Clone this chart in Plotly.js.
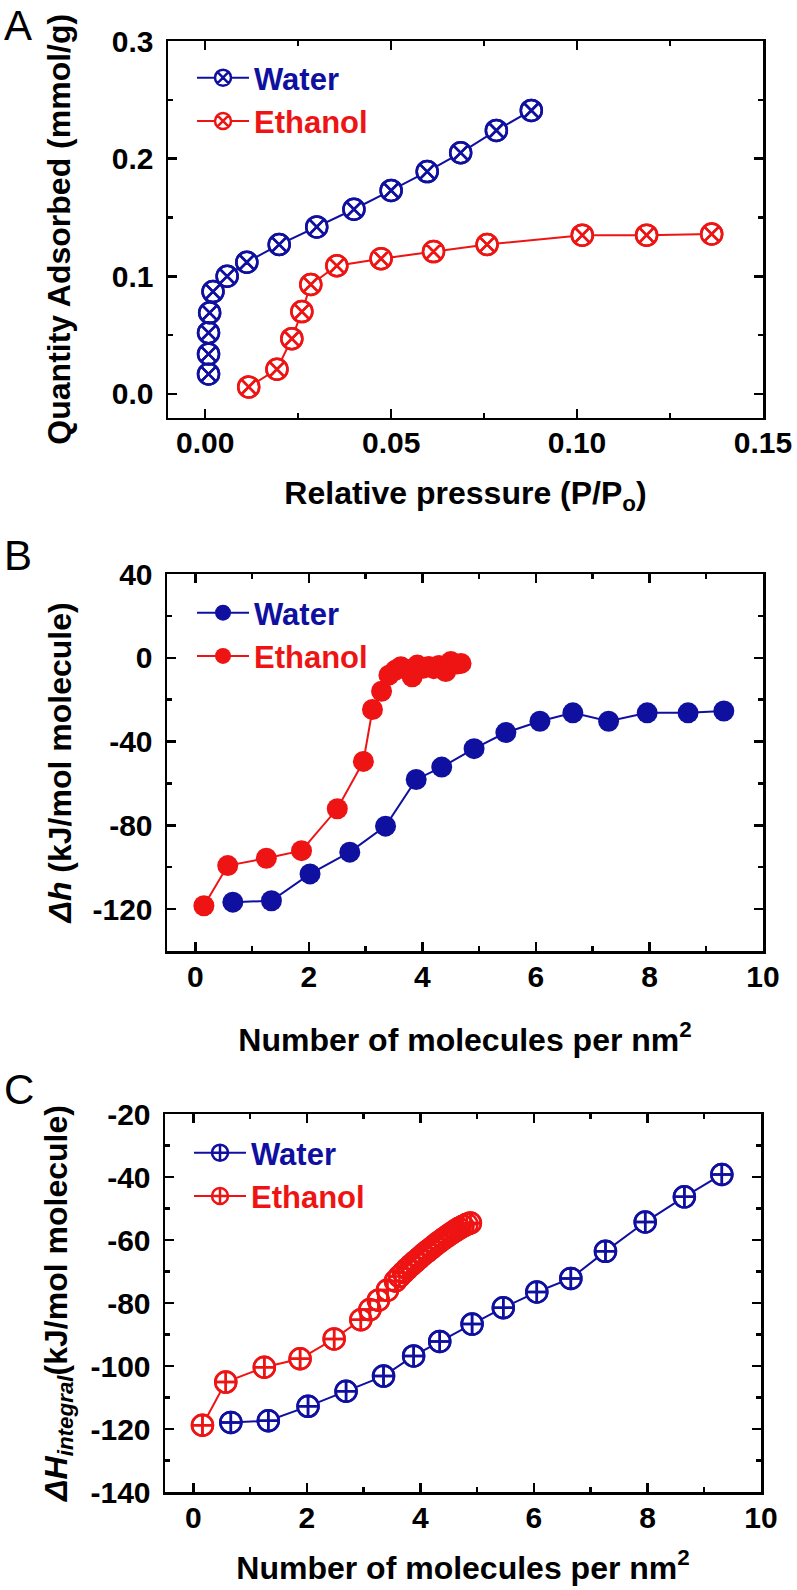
<!DOCTYPE html>
<html><head><meta charset="utf-8">
<script src="https://cdn.plot.ly/plotly-3.0.1.min.js"></script>
<style>body{margin:0;background:#fff}#chart{width:797px;height:1590px}</style>
</head><body><div id="chart"></div>
<script>
// ---------- data ----------
const seriesNames = ['Water', 'Ethanol'];

// Panel A: adsorption isotherms
const pressureWater = [0.0009, 0.0009, 0.0009, 0.0012, 0.0021, 0.0059, 0.0112, 0.0199, 0.0300, 0.0400, 0.0500, 0.0597, 0.0687, 0.0783, 0.0877];
const adsorbedWater = [0.017, 0.034, 0.052, 0.069, 0.087, 0.100, 0.112, 0.127, 0.142, 0.157, 0.173, 0.189, 0.205, 0.224, 0.241];
const pressureEthanol = [0.0117, 0.0193, 0.0233, 0.0260, 0.0284, 0.0354, 0.0473, 0.0614, 0.0758, 0.1014, 0.1187, 0.1362];
const adsorbedEthanol = [0.006, 0.021, 0.047, 0.070, 0.093, 0.109, 0.115, 0.121, 0.127, 0.135, 0.135, 0.136];

// Panel B: differential enthalpy
const coverageWaterB = [0.66, 1.34, 2.02, 2.72, 3.35, 3.89, 4.34, 4.91, 5.47, 6.07, 6.65, 7.28, 7.96, 8.68, 9.31];
const dhWater = [-116.7, -116.0, -103.2, -92.8, -80.4, -58.1, -52.2, -43.4, -35.7, -30.3, -26.3, -30.3, -26.3, -26.3, -25.4];
const coverageEthanolB = [0.15, 0.57, 1.25, 1.87, 2.50, 2.96, 3.12, 3.28, 3.41, 3.52, 3.62, 3.72, 3.82, 3.91, 4.01, 4.11, 4.20, 4.29, 4.41, 4.50, 4.60, 4.68];
const dhEthanol = [-118.4, -99.2, -95.7, -92.1, -72.1, -49.5, -24.7, -16.0, -8.3, -6.0, -4.3, -5.5, -9.1, -3.5, -5.0, -4.2, -5.2, -3.7, -6.6, -1.8, -3.0, -2.7];

// Panel C: integral enthalpy
const coverageWaterC = [0.66, 1.32, 2.02, 2.69, 3.35, 3.88, 4.34, 4.91, 5.46, 6.05, 6.65, 7.26, 7.96, 8.65, 9.31];
const dHintWater = [-117.9, -117.4, -112.8, -108.0, -103.2, -96.8, -92.2, -86.7, -81.5, -76.5, -72.2, -63.6, -54.3, -46.3, -39.2];
const coverageEthanolC = [0.16, 0.57, 1.25, 1.88, 2.48, 2.95, 3.11, 3.26, 3.42, 3.56, 3.63, 3.70, 3.77, 3.84, 3.91, 3.98, 4.05, 4.12, 4.19, 4.26, 4.33, 4.40, 4.47, 4.54, 4.61, 4.68, 4.75, 4.82, 4.88];
const dHintEthanol = [-118.8, -105.1, -100.4, -97.7, -91.4, -85.3, -82.1, -79.1, -75.9, -73.0, -71.6, -70.3, -69.1, -67.9, -66.8, -65.7, -64.6, -63.6, -62.6, -61.6, -60.6, -59.7, -58.8, -57.9, -57.1, -56.3, -55.6, -55.0, -54.6];

// tick labels (hyphen minus as in the original)
const tickValsB = [-120, -80, -40, 0, 40];
const tickTextB = ['-120', '-80', '-40', '0', '40'];
const tickValsC = [-140, -120, -100, -80, -60, -40, -20];
const tickTextC = ['-140', '-120', '-100', '-80', '-60', '-40', '-20'];

// ---------- styling ----------
const W = 797, H = 1590;
const BLUE = '#1010a0', RED = '#ee1414';
const FONT = 'Liberation Sans, Arial, Helvetica, sans-serif';
const px = v => v / W;
const py = v => 1 - v / H;
const MS = 21;

function series(x, y, color, symbol, xa, ya, leg, name) {
  const label = '<span style="color:' + color + '">' + name + '</span>';
  if (symbol === 'circle') {
    return [{x, y, xaxis: xa, yaxis: ya, legend: leg, name: label, mode: 'lines+markers',
      line: {color, width: 2},
      marker: {symbol: 'circle', size: MS, color, line: {color, width: 0}}}];
  }
  // white-filled copy hides the connecting line inside each marker (as in the original)
  const base = {x, y, xaxis: xa, yaxis: ya, legend: leg, name: label, mode: 'lines+markers',
    line: {color, width: 2},
    marker: {symbol, size: MS, color: 'white', line: {color, width: 2.5}}};
  // open copy on top so overlapping markers keep their full outline
  const over = {x, y, xaxis: xa, yaxis: ya, mode: 'markers', showlegend: false, hoverinfo: 'skip',
    marker: {symbol: symbol + '-open', size: MS, color, line: {color, width: 2.5}}};
  return [base, over];
}

const traces = [].concat(
  series(pressureWater, adsorbedWater, BLUE, 'circle-x', 'x', 'y', 'legend', seriesNames[0]),
  series(pressureEthanol, adsorbedEthanol, RED, 'circle-x', 'x', 'y', 'legend', seriesNames[1]),
  series(coverageWaterB, dhWater, BLUE, 'circle', 'x2', 'y2', 'legend2', seriesNames[0]),
  series(coverageEthanolB, dhEthanol, RED, 'circle', 'x2', 'y2', 'legend2', seriesNames[1]),
  series(coverageWaterC, dHintWater, BLUE, 'circle-cross', 'x3', 'y3', 'legend3', seriesNames[0]),
  series(coverageEthanolC, dHintEthanol, RED, 'circle-cross', 'x3', 'y3', 'legend3', seriesNames[1])
);

function axis(extra, minorDtick, title, standoff, labelStandoff) {
  return Object.assign({
    showline: true, linecolor: 'black', linewidth: 2.5, mirror: 'allticks',
    ticks: 'inside', ticklen: 9, tickwidth: 2.5, tickcolor: 'black',
    showgrid: false, zeroline: false, automargin: false, fixedrange: true,
    ticklabelstandoff: labelStandoff,
    tickfont: {family: FONT, size: 30, color: 'black', weight: 'bold'},
    minor: {ticks: 'inside', ticklen: 5, tickwidth: 2.5, tickcolor: 'black', dtick: minorDtick, showgrid: false},
    title: {text: title, standoff: standoff, font: {family: FONT, size: 32, color: 'black', weight: 'bold'}}
  }, extra);
}

function legendAt(xPix, yPix) {
  return {x: px(xPix), y: py(yPix), xref: 'paper', yref: 'paper', xanchor: 'left', yanchor: 'top',
    bgcolor: 'rgba(0,0,0,0)', borderwidth: 0, tracegroupgap: 0, itemwidth: 52,
    font: {family: FONT, size: 31, color: 'black', weight: 'bold'}};
}

function panelLabel(text, xPix, yPix) {
  return {text, x: px(xPix), y: py(yPix), xref: 'paper', yref: 'paper', xanchor: 'center', yanchor: 'middle',
    showarrow: false, font: {family: FONT, size: 42, color: 'black'}};
}

const layout = {
  width: W, height: H,
  margin: {l: 0, r: 0, t: 0, b: 0},
  paper_bgcolor: 'white', plot_bgcolor: 'white',
  showlegend: true,
  xaxis: axis({domain: [px(168), px(763)], anchor: 'y', range: [-0.01, 0.15], dtick: 0.05, tick0: 0, tickformat: '.2f'},
    0.025, 'Relative pressure (P/P<sub>o</sub>)', 24, -3),
  yaxis: axis({domain: [py(417.5), py(41)], anchor: 'x', range: [-0.02, 0.3], dtick: 0.1, tick0: 0, tickformat: '.1f'},
    0.05, 'Quantity Adsorbed (mmol/g)', 32, 6),
  xaxis2: axis({domain: [px(167), px(763)], anchor: 'y2', range: [-0.5, 10], dtick: 2, tick0: 0},
    1, 'Number of molecules per nm<sup>2</sup>', 37, -3),
  yaxis2: axis({domain: [py(951), py(574)], anchor: 'x2', range: [-140, 40], tickmode: 'array', tickvals: tickValsB, ticktext: tickTextB},
    20, '<i>Δh</i> (kJ/mol molecule)', 12, 6),
  xaxis3: axis({domain: [px(165), px(761)], anchor: 'y3', range: [-0.5, 10], dtick: 2, tick0: 0},
    1, 'Number of molecules per nm<sup>2</sup>', 24, -3),
  yaxis3: axis({domain: [py(1492), py(1114)], anchor: 'x3', range: [-140, -20], tickmode: 'array', tickvals: tickValsC, ticktext: tickTextC},
    10, '<i>ΔH<sub>integral</sub></i>(kJ/mol molecule)', 14, 6),
  legend: legendAt(192, 51),
  legend2: legendAt(192, 586),
  legend3: legendAt(189, 1126),
  annotations: [panelLabel('A', 18, 26), panelLabel('B', 18, 555), panelLabel('C', 19, 1089)]
};

Plotly.newPlot('chart', traces, layout, {staticPlot: true, displayModeBar: false});
</script>
</body></html>
